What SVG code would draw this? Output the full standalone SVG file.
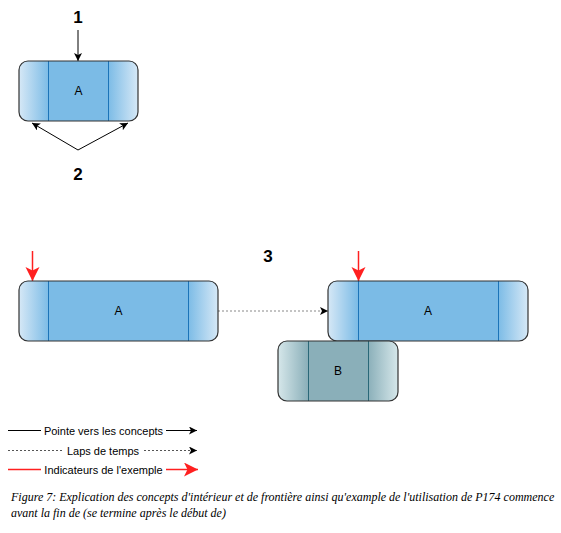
<svg xmlns="http://www.w3.org/2000/svg" width="561" height="533" viewBox="0 0 561 533">
<style>
.lbl{font-family:"Liberation Sans",Arial,sans-serif;font-size:12px;fill:#000;text-anchor:middle}
.num{font-family:"Liberation Sans",Arial,sans-serif;font-size:17px;font-weight:bold;fill:#000;text-anchor:middle}
.leg{font-family:"Liberation Sans",Arial,sans-serif;font-size:11px;fill:#000;text-anchor:middle}
.cap{font-family:"Liberation Serif","Times New Roman",serif;font-size:12px;font-style:italic;fill:#000}
.frame{fill:none;stroke:#333;stroke-width:1.2}
.divA{stroke:#1c74b8;stroke-width:1}
.divB{stroke:#2a6878;stroke-width:1}
.blk{stroke:#000;stroke-width:1;fill:none}
</style>
<defs>
<linearGradient id="gAL" x1="0" y1="0" x2="1" y2="0"><stop offset="0" stop-color="#d6e8f6"/><stop offset="1" stop-color="#7bbbe6"/></linearGradient>
<linearGradient id="gAR" x1="1" y1="0" x2="0" y2="0"><stop offset="0" stop-color="#d6e8f6"/><stop offset="1" stop-color="#7bbbe6"/></linearGradient>
<linearGradient id="gBL" x1="0" y1="0" x2="1" y2="0"><stop offset="0" stop-color="#d6e7ea"/><stop offset="1" stop-color="#8aafb9"/></linearGradient>
<linearGradient id="gBR" x1="1" y1="0" x2="0" y2="0"><stop offset="0" stop-color="#d6e7ea"/><stop offset="1" stop-color="#8aafb9"/></linearGradient>
<marker id="ah" markerWidth="10" markerHeight="10" refX="8" refY="4" orient="auto" markerUnits="userSpaceOnUse"><path d="M0,0 L8,4 L0,8 L2,4 Z" fill="#000"/></marker>
<marker id="ahr" markerWidth="16" markerHeight="16" refX="14" refY="7" orient="auto" markerUnits="userSpaceOnUse"><path d="M0,0 L14,7 L0,14 L3.5,7 Z" fill="#ff2020"/></marker>
<clipPath id="c1"><rect x="19" y="61" width="119" height="60" rx="9"/></clipPath>
<clipPath id="c2"><rect x="19" y="281" width="199" height="60" rx="9"/></clipPath>
<clipPath id="c3"><rect x="328" y="281" width="200" height="60" rx="9"/></clipPath>
<clipPath id="c4"><rect x="278" y="341" width="120" height="60" rx="9"/></clipPath>
</defs>

<g id="connectors">
<line class="blk" x1="78" y1="30" x2="78" y2="61" marker-end="url(#ah)"/>
<line class="blk" x1="78" y1="150" x2="32" y2="123" marker-end="url(#ah)"/>
<line class="blk" x1="78" y1="150" x2="128" y2="123" marker-end="url(#ah)"/>
<line x1="218" y1="311" x2="328" y2="311" stroke="#888" stroke-width="1" stroke-dasharray="2,2" marker-end="url(#ah)"/>
<line x1="32.5" y1="251" x2="32.5" y2="281" stroke="#ff2020" stroke-width="1.5" marker-end="url(#ahr)"/>
<line x1="358.5" y1="251" x2="358.5" y2="281" stroke="#ff2020" stroke-width="1.5" marker-end="url(#ahr)"/>
</g>

<g id="label1"><text class="num" x="78" y="23">1</text></g>
<g id="label2"><text class="num" x="78" y="180">2</text></g>
<g id="label3"><text class="num" x="268" y="262">3</text></g>

<g id="nodeA1">
<g clip-path="url(#c1)">
<rect x="19" y="61" width="119" height="60" fill="#7bbbe6"/>
<rect x="19" y="61" width="30" height="60" fill="url(#gAL)"/>
<rect x="108" y="61" width="30" height="60" fill="url(#gAR)"/>
</g>
<line class="divA" x1="48.5" y1="61" x2="48.5" y2="121"/>
<line class="divA" x1="108.5" y1="61" x2="108.5" y2="121"/>
<rect class="frame" x="19" y="61" width="119" height="60" rx="9"/>
<text class="lbl" x="78.5" y="95">A</text>
</g>

<g id="nodeA2">
<g clip-path="url(#c2)">
<rect x="19" y="281" width="199" height="60" fill="#7bbbe6"/>
<rect x="19" y="281" width="30" height="60" fill="url(#gAL)"/>
<rect x="188" y="281" width="30" height="60" fill="url(#gAR)"/>
</g>
<line class="divA" x1="48.5" y1="281" x2="48.5" y2="341"/>
<line class="divA" x1="188.5" y1="281" x2="188.5" y2="341"/>
<rect class="frame" x="19" y="281" width="199" height="60" rx="9"/>
<text class="lbl" x="118.5" y="315">A</text>
</g>

<g id="nodeA3">
<g clip-path="url(#c3)">
<rect x="328" y="281" width="200" height="60" fill="#7bbbe6"/>
<rect x="328" y="281" width="30" height="60" fill="url(#gAL)"/>
<rect x="498" y="281" width="30" height="60" fill="url(#gAR)"/>
</g>
<line class="divA" x1="358.5" y1="281" x2="358.5" y2="341"/>
<line class="divA" x1="498.5" y1="281" x2="498.5" y2="341"/>
<rect class="frame" x="328" y="281" width="200" height="60" rx="9"/>
<text class="lbl" x="428" y="315">A</text>
</g>

<g id="nodeB">
<g clip-path="url(#c4)">
<rect x="278" y="341" width="120" height="60" fill="#8aafb9"/>
<rect x="278" y="341" width="30" height="60" fill="url(#gBL)"/>
<rect x="368" y="341" width="30" height="60" fill="url(#gBR)"/>
</g>
<line class="divB" x1="308.5" y1="341" x2="308.5" y2="401"/>
<line class="divB" x1="368.5" y1="341" x2="368.5" y2="401"/>
<rect class="frame" x="278" y="341" width="120" height="60" rx="9"/>
<text class="lbl" x="338" y="375">B</text>
</g>

<g id="legend">
<line x1="8" y1="430.5" x2="197" y2="430.5" stroke="#000" stroke-width="1" marker-end="url(#ah)"/>
<rect x="41" y="423" width="125" height="15" fill="#fff"/>
<text class="leg" x="103.5" y="434.5">Pointe vers les concepts</text>
<line x1="8" y1="450.5" x2="197" y2="450.5" stroke="#555" stroke-width="1" stroke-dasharray="2,2" marker-end="url(#ah)"/>
<rect x="64" y="443" width="78" height="15" fill="#fff"/>
<text class="leg" x="103" y="454.5">Laps de temps</text>
<line x1="8" y1="469.5" x2="198" y2="469.5" stroke="#ff2020" stroke-width="1.5" marker-end="url(#ahr)"/>
<rect x="41" y="462" width="125" height="15" fill="#fff"/>
<text class="leg" x="103.5" y="473.5">Indicateurs de l'exemple</text>
</g>

<g id="caption">
<text class="cap" x="11" y="501">Figure 7: Explication des concepts d'intérieur et de frontière ainsi qu'example de l'utilisation de P174 commence</text>
<text class="cap" x="11" y="517">avant la fin de (se termine après le début de)</text>
</g>
</svg>
